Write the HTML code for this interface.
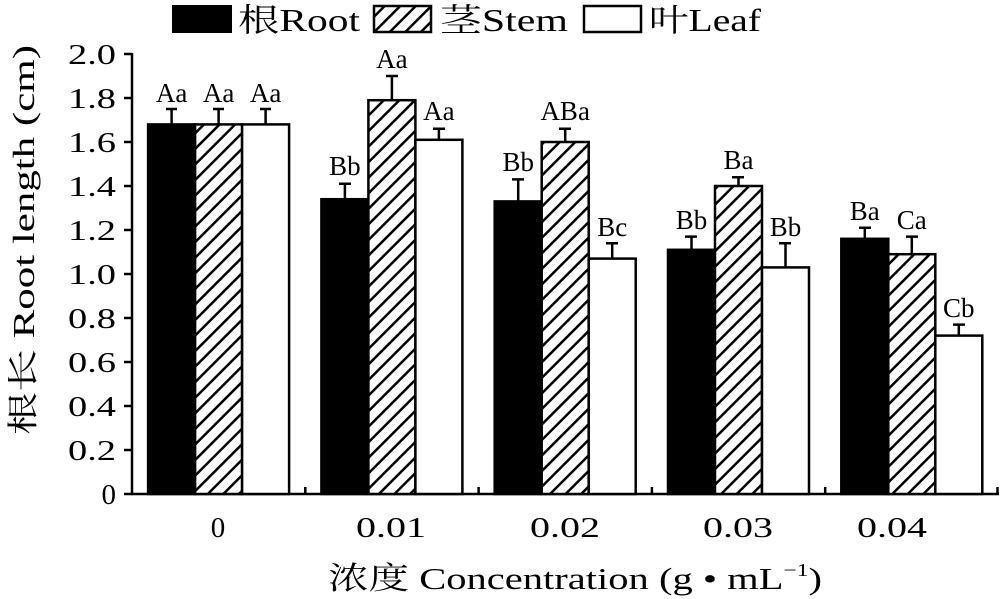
<!DOCTYPE html>
<html><head><meta charset="utf-8"><style>body{margin:0;background:#fff}svg{display:block}</style></head><body>
<svg width="1000" height="599" xmlns="http://www.w3.org/2000/svg" font-family="'Liberation Serif','Noto Serif CJK SC',serif">
<defs><pattern id="h" patternUnits="userSpaceOnUse" width="11" height="11" patternTransform="rotate(45)"><rect width="11" height="11" fill="#fff"/><line x1="0" y1="0" x2="0" y2="11" stroke="#000" stroke-width="5"/></pattern></defs>
<g font-size="32">
<rect x="172" y="5" width="60" height="28" fill="#000"/>
<text x="238" y="31" textLength="122" lengthAdjust="spacingAndGlyphs">根Root</text>
<rect x="374" y="6" width="57" height="26" fill="url(#h)" stroke="#000" stroke-width="2.5"/>
<text x="440" y="31" textLength="128" lengthAdjust="spacingAndGlyphs">茎Stem</text>
<rect x="584" y="6" width="57" height="26" fill="#fff" stroke="#000" stroke-width="2.5"/>
<text x="649" y="31" textLength="112" lengthAdjust="spacingAndGlyphs">叶Leaf</text>
</g>
<g stroke="#000" stroke-width="2.5">
<line x1="132" y1="53" x2="132" y2="494"/>
<line x1="131" y1="494" x2="999" y2="494"/>
<line x1="124" y1="494" x2="132" y2="494"/><line x1="124" y1="450" x2="132" y2="450"/><line x1="124" y1="406" x2="132" y2="406"/><line x1="124" y1="362" x2="132" y2="362"/><line x1="124" y1="318" x2="132" y2="318"/><line x1="124" y1="274" x2="132" y2="274"/><line x1="124" y1="230" x2="132" y2="230"/><line x1="124" y1="186" x2="132" y2="186"/><line x1="124" y1="142" x2="132" y2="142"/><line x1="124" y1="98" x2="132" y2="98"/><line x1="124" y1="54" x2="132" y2="54"/>
<line x1="305.3" y1="494" x2="305.3" y2="487"/><line x1="478.6" y1="494" x2="478.6" y2="487"/><line x1="651.9" y1="494" x2="651.9" y2="487"/><line x1="825.2" y1="494" x2="825.2" y2="487"/><line x1="997.5" y1="494" x2="997.5" y2="487"/>
</g>
<g font-size="29" text-anchor="end">
<text x="116" y="504">0</text>
<text x="116" y="460" textLength="48" lengthAdjust="spacingAndGlyphs">0.2</text>
<text x="116" y="416" textLength="48" lengthAdjust="spacingAndGlyphs">0.4</text>
<text x="116" y="372" textLength="48" lengthAdjust="spacingAndGlyphs">0.6</text>
<text x="116" y="328" textLength="48" lengthAdjust="spacingAndGlyphs">0.8</text>
<text x="116" y="284" textLength="48" lengthAdjust="spacingAndGlyphs">1.0</text>
<text x="116" y="240" textLength="48" lengthAdjust="spacingAndGlyphs">1.2</text>
<text x="116" y="196" textLength="48" lengthAdjust="spacingAndGlyphs">1.4</text>
<text x="116" y="152" textLength="48" lengthAdjust="spacingAndGlyphs">1.6</text>
<text x="116" y="108" textLength="48" lengthAdjust="spacingAndGlyphs">1.8</text>
<text x="116" y="64" textLength="48" lengthAdjust="spacingAndGlyphs">2.0</text>
</g>
<g stroke="#000" stroke-width="2.5">
<path d="M171.6 124V109M166 109H177M218.6 124V109M213 109H224M265.6 124V109M260 109H271
M344.9 199V183.8M339 183.8H351M391.9 100V76M386 76H398M438.9 140V128.8M433 128.8H445
M518.2 201V179.4M512 179.4H524M565.2 142V128.8M559 128.8H571M612.2 258V243.2M606 243.2H618
M691.5 250V236.6M685 236.6H697M738.5 186V177.2M732 177.2H744M785.5 267V243.2M779 243.2H791
M864.8 239V227.8M859 227.8H871M911.8 254V236.6M906 236.6H918M958.8 335V324.6M953 324.6H965" fill="none"/>
<rect x="148.1" y="124.4" width="47" height="369.6" fill="#000"/>
<rect x="195.1" y="124.4" width="47" height="369.6" fill="url(#h)"/>
<rect x="242.1" y="124.4" width="47" height="369.6" fill="#fff"/>
<rect x="321.4" y="199.2" width="47" height="294.8" fill="#000"/>
<rect x="368.4" y="100.2" width="47" height="393.8" fill="url(#h)"/>
<rect x="415.4" y="139.8" width="47" height="354.2" fill="#fff"/>
<rect x="494.7" y="201.4" width="47" height="292.6" fill="#000"/>
<rect x="541.7" y="142" width="47" height="352" fill="url(#h)"/>
<rect x="588.7" y="258.6" width="47" height="235.4" fill="#fff"/>
<rect x="668" y="249.8" width="47" height="244.2" fill="#000"/>
<rect x="715" y="186" width="47" height="308" fill="url(#h)"/>
<rect x="762" y="267.4" width="47" height="226.6" fill="#fff"/>
<rect x="841.3" y="238.8" width="47" height="255.2" fill="#000"/>
<rect x="888.3" y="254.2" width="47" height="239.8" fill="url(#h)"/>
<rect x="935.3" y="335.6" width="47" height="158.4" fill="#fff"/>
</g>
<g font-size="27" text-anchor="middle">
<text x="171.6" y="102">Aa</text><text x="218.6" y="102">Aa</text><text x="265.6" y="102">Aa</text>
<text x="344.9" y="175">Bb</text><text x="391.9" y="68">Aa</text><text x="438.9" y="120">Aa</text>
<text x="518.2" y="171">Bb</text><text x="565.2" y="120">ABa</text><text x="612.2" y="236">Bc</text>
<text x="691.5" y="229">Bb</text><text x="738.5" y="169">Ba</text><text x="785.5" y="236">Bb</text>
<text x="864.8" y="220">Ba</text><text x="911.8" y="229">Ca</text><text x="958.8" y="317">Cb</text>
</g>
<g font-size="29" text-anchor="middle">
<text x="218" y="537">0</text>
<text x="391" y="537" textLength="70" lengthAdjust="spacingAndGlyphs">0.01</text>
<text x="565" y="537" textLength="70" lengthAdjust="spacingAndGlyphs">0.02</text>
<text x="738" y="537" textLength="70" lengthAdjust="spacingAndGlyphs">0.03</text>
<text x="892" y="537" textLength="70" lengthAdjust="spacingAndGlyphs">0.04</text>
</g>
<text x="328" y="589" font-size="31" textLength="494" lengthAdjust="spacingAndGlyphs">浓度 Concentration (g • mL<tspan font-size="18" dy="-13">−1</tspan><tspan dy="13">)</tspan></text>
<text transform="translate(34,240) rotate(-90)" font-size="31" text-anchor="middle" textLength="390" lengthAdjust="spacingAndGlyphs">根长 Root length (cm)</text>
</svg>
</body></html>
